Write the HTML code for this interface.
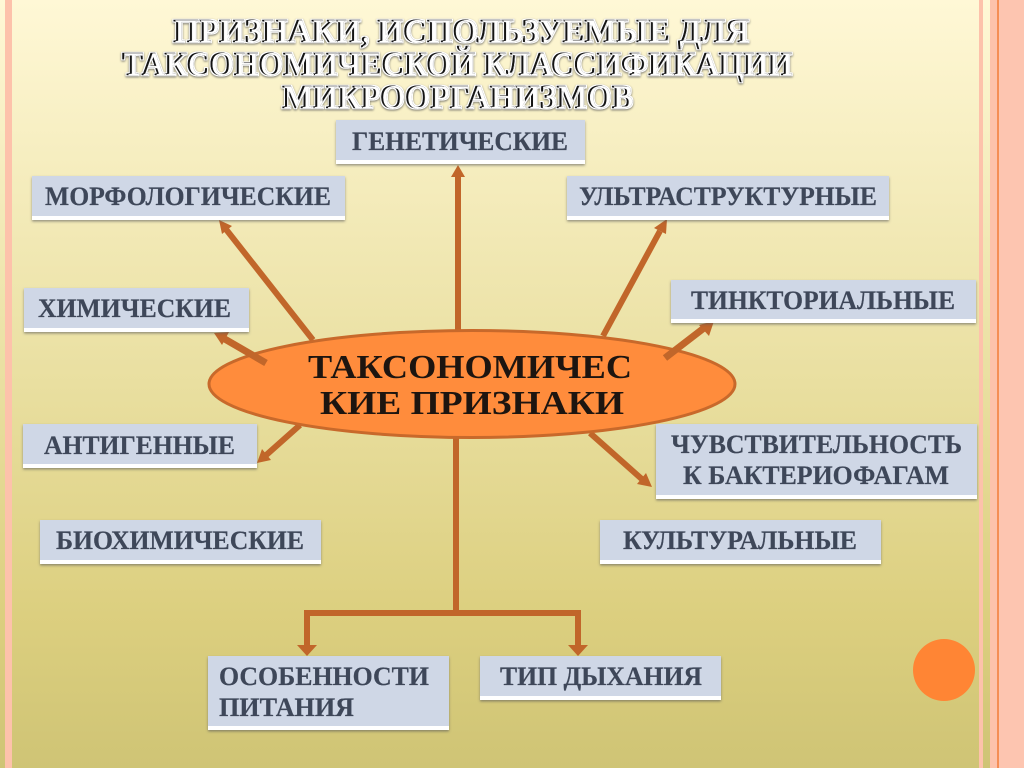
<!DOCTYPE html>
<html><head><meta charset="utf-8">
<style>
html,body{margin:0;padding:0;width:1024px;height:768px;overflow:hidden;background:#fff}
svg{display:block}
.t{font-family:"Liberation Serif","DejaVu Serif",serif;font-weight:bold;font-size:26px;fill:#3e4759;stroke:#3e4759;stroke-width:.2px}
.e{font-family:"Liberation Serif","DejaVu Serif",serif;font-weight:bold;font-size:34px;fill:#1d1510}
.h{font-family:"Liberation Serif","DejaVu Serif",serif;font-weight:bold;font-size:34px;fill:#141414;stroke:#141414;stroke-width:.5px}
</style></head>
<body>
<svg width="1024" height="768" viewBox="0 0 1024 768" xmlns="http://www.w3.org/2000/svg">
<defs>
<linearGradient id="bg" x1="0" y1="0" x2="0" y2="1">
<stop offset="0" stop-color="#fff8d6"/><stop offset="0.5" stop-color="#e9dfa0"/><stop offset="0.8" stop-color="#dccf7f"/><stop offset="1" stop-color="#cfc475"/>
</linearGradient>
<filter id="sh" x="-5%" y="-10%" width="110%" height="125%"><feDropShadow dx="0" dy="1.5" stdDeviation="1.2" flood-color="#555" flood-opacity=".6"/></filter>
<filter id="outline" x="-5%" y="-20%" width="110%" height="140%" color-interpolation-filters="sRGB">
<feMorphology in="SourceAlpha" operator="dilate" radius="1.1" result="fat"/>
<feFlood flood-color="#fff"/><feComposite in2="fat" operator="in" result="white"/>
<feOffset in="fat" dx="0" dy="1" result="off"/><feGaussianBlur in="off" stdDeviation="1" result="bl"/>
<feFlood flood-color="#555" flood-opacity=".8"/><feComposite in2="bl" operator="in" result="shadow"/>
<feOffset in="SourceAlpha" dx="2.2" dy="0.6" result="shift"/>
<feFlood flood-color="#fff"/><feComposite in2="shift" operator="in" result="w2"/>
<feComposite in="w2" in2="SourceAlpha" operator="in" result="hi"/>
<feMerge><feMergeNode in="shadow"/><feMergeNode in="white"/><feMergeNode in="SourceGraphic"/><feMergeNode in="hi"/></feMerge>
</filter>
</defs>
<rect width="1024" height="768" fill="url(#bg)"/>
<rect x="5" y="0" width="7" height="768" fill="#fdc2ab"/>
<rect x="979" y="0" width="4" height="768" fill="#fdc2ab"/>
<rect x="990" y="0" width="7" height="768" fill="#fdc2ab"/>
<rect x="997" y="0" width="2" height="768" fill="#f58e55"/>
<rect x="999" y="0" width="25" height="768" fill="#fdc5b0"/>

<g filter="url(#outline)">
<text class="h" x="173" y="42" textLength="576" lengthAdjust="spacingAndGlyphs">ПРИЗНАКИ, ИСПОЛЬЗУЕМЫЕ ДЛЯ</text>
<text class="h" x="122" y="75" textLength="670" lengthAdjust="spacingAndGlyphs">ТАКСОНОМИЧЕСКОЙ КЛАССИФИКАЦИИ</text>
<text class="h" x="282" y="108" textLength="351" lengthAdjust="spacingAndGlyphs">МИКРООРГАНИЗМОВ</text>
</g>

<g stroke="#c1662a" stroke-width="6" fill="none">
<path d="M458 330V174"/>
<path d="M313 340L225 228"/>
<path d="M603 336L660 231"/>
<path d="M300 425L264 457"/>
<path d="M590 433L644 481"/>
<path d="M456 438V616"/>
<path d="M304 613H581"/>
<path d="M307 611V648"/>
<path d="M578 611V648"/>
</g>
<g fill="#c1662a">
<polygon points="458,165 451,177 465,177"/>
<polygon points="219,220 232,226 222,234"/>
<polygon points="667,219 666,234 654,228"/>
<polygon points="257,463 262,449 271,460"/>
<polygon points="652,487 637,484 646,473"/>
<polygon points="307,656 297,645 317,645"/>
<polygon points="578,656 568,645 588,645"/>
</g>

<ellipse cx="472" cy="384" rx="263" ry="53.500" fill="#ff8c3c" stroke="#c8692b" stroke-width="3"/>

<g stroke="#c1662a" stroke-width="7" fill="none">
<path d="M266 363L223 338"/>
<path d="M665 358L704 328"/>
</g>
<g fill="#c1662a">
<polygon points="214,333 229,332 222,345"/>
<polygon points="714,321 709,336 699,325"/>
</g>

<text class="e" x="308" y="378" textLength="324" lengthAdjust="spacingAndGlyphs">ТАКСОНОМИЧЕС</text>
<text class="e" x="320" y="414" textLength="304" lengthAdjust="spacingAndGlyphs">КИЕ ПРИЗНАКИ</text>

<g filter="url(#sh)">
<rect x="336" y="120" width="249" height="44" fill="#fff"/><rect x="336" y="120" width="249" height="40" fill="#cfd7e6"/>
<rect x="32" y="176" width="313" height="44" fill="#fff"/><rect x="32" y="176" width="313" height="40" fill="#cfd7e6"/>
<rect x="567" y="176" width="322" height="44" fill="#fff"/><rect x="567" y="176" width="322" height="40" fill="#cfd7e6"/>
<rect x="24" y="288" width="225" height="44" fill="#fff"/><rect x="24" y="288" width="225" height="40" fill="#cfd7e6"/>
<rect x="671" y="280" width="305" height="43" fill="#fff"/><rect x="671" y="280" width="305" height="39" fill="#cfd7e6"/>
<rect x="23" y="424" width="234" height="44" fill="#fff"/><rect x="23" y="424" width="234" height="40" fill="#cfd7e6"/>
<rect x="656" y="424" width="321" height="75" fill="#fff"/><rect x="656" y="424" width="321" height="71" fill="#cfd7e6"/>
<rect x="40" y="520" width="281" height="44" fill="#fff"/><rect x="40" y="520" width="281" height="40" fill="#cfd7e6"/>
<rect x="600" y="520" width="281" height="44" fill="#fff"/><rect x="600" y="520" width="281" height="40" fill="#cfd7e6"/>
<rect x="208" y="656" width="241" height="74" fill="#fff"/><rect x="208" y="656" width="241" height="70" fill="#cfd7e6"/>
<rect x="480" y="656" width="241" height="44" fill="#fff"/><rect x="480" y="656" width="241" height="40" fill="#cfd7e6"/>
</g>

<text class="t" x="352" y="150" textLength="216" lengthAdjust="spacingAndGlyphs">ГЕНЕТИЧЕСКИЕ</text>
<text class="t" x="45" y="205" textLength="286" lengthAdjust="spacingAndGlyphs">МОРФОЛОГИЧЕСКИЕ</text>
<text class="t" x="579" y="205" textLength="298" lengthAdjust="spacingAndGlyphs">УЛЬТРАСТРУКТУРНЫЕ</text>
<text class="t" x="38" y="317" textLength="193" lengthAdjust="spacingAndGlyphs">ХИМИЧЕСКИЕ</text>
<text class="t" x="691" y="309" textLength="264" lengthAdjust="spacingAndGlyphs">ТИНКТОРИАЛЬНЫЕ</text>
<text class="t" x="44" y="454" textLength="191" lengthAdjust="spacingAndGlyphs">АНТИГЕННЫЕ</text>
<text class="t" x="671" y="453" textLength="291" lengthAdjust="spacingAndGlyphs">ЧУВСТВИТЕЛЬНОСТЬ</text>
<text class="t" x="683" y="484" textLength="266" lengthAdjust="spacingAndGlyphs">К БАКТЕРИОФАГАМ</text>
<text class="t" x="56" y="549" textLength="248" lengthAdjust="spacingAndGlyphs">БИОХИМИЧЕСКИЕ</text>
<text class="t" x="623" y="549" textLength="234" lengthAdjust="spacingAndGlyphs">КУЛЬТУРАЛЬНЫЕ</text>
<text class="t" x="219" y="685" textLength="210" lengthAdjust="spacingAndGlyphs">ОСОБЕННОСТИ</text>
<text class="t" x="219" y="716" textLength="135" lengthAdjust="spacingAndGlyphs">ПИТАНИЯ</text>
<text class="t" x="500" y="685" textLength="202" lengthAdjust="spacingAndGlyphs">ТИП ДЫХАНИЯ</text>

<circle cx="944" cy="670" r="31" fill="#ff8534"/>
</svg>
</body></html>
